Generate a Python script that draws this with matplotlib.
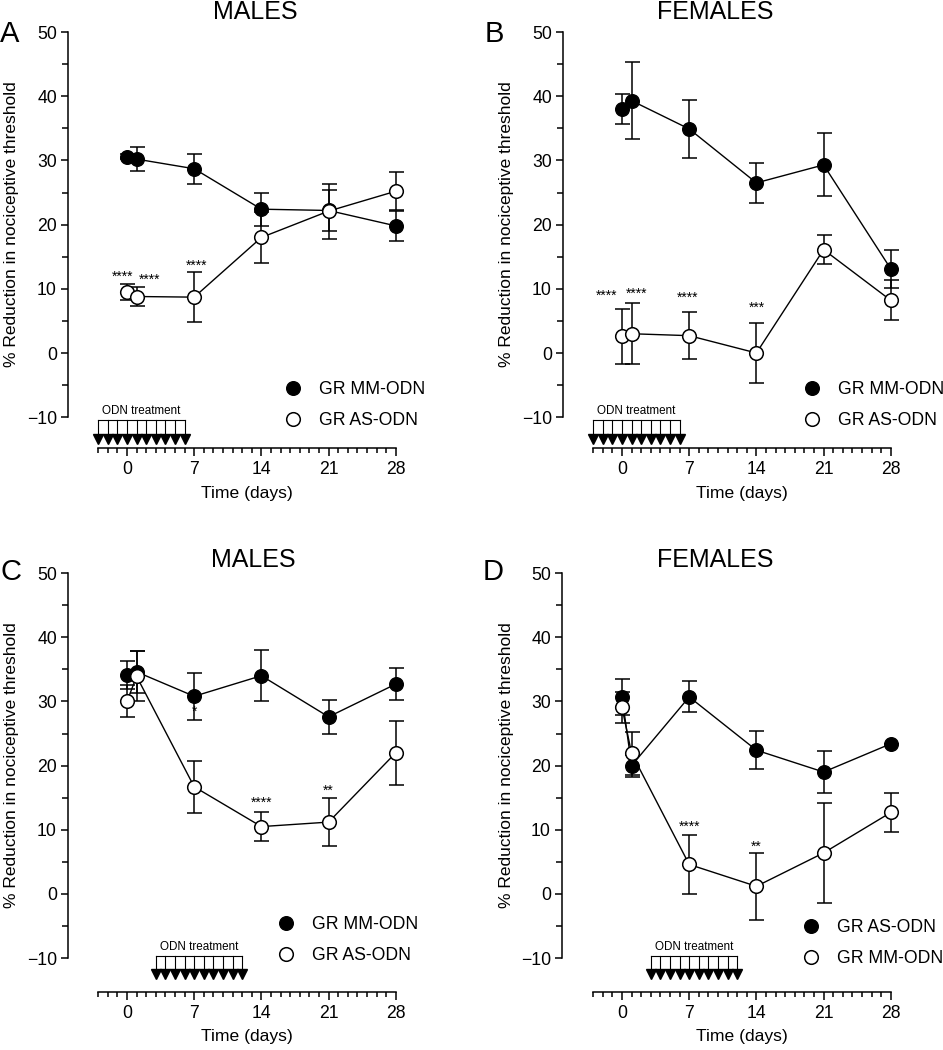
import numpy as np
import matplotlib
matplotlib.use('Agg')
import matplotlib.pyplot as plt
from matplotlib.lines import Line2D

plt.rcParams['font.family'] = ['Liberation Sans', 'DejaVu Sans']

# ---------------- data ----------------
days = [0, 1, 7, 14, 21, 28]

# A - males, ODN before
a_filled = [30.6, 30.2, 28.7, 22.4, 22.2, 19.8]
a_filled_err = [0.4, 1.9, 2.3, 2.6, 3.2, 2.3]
a_open = [9.5, 8.8, 8.7, 18.0, 22.1, 25.2]
a_open_err = [1.2, 1.45, 3.9, 4.0, 4.3, 3.0]
a_labels = ['GR MM-ODN', 'GR AS-ODN']
a_stars = [(-0.5, 11.8, '****'), (2.3, 11.4, '****'), (7.2, 13.6, '****')]

# B - females, ODN before
b_filled = [38.0, 39.3, 34.9, 26.5, 29.3, 13.1]
b_filled_err = [2.3, 6.0, 4.5, 3.1, 4.9, 2.9]
b_open = [2.6, 3.0, 2.7, 0.0, 16.1, 8.2]
b_open_err = [4.3, 4.75, 3.65, 4.7, 2.3, 3.1]
b_labels = ['GR MM-ODN', 'GR AS-ODN']
b_stars = [(-1.6, 8.9, '****'), (1.5, 9.3, '****'), (6.8, 8.6, '****'), (14.0, 7.0, '***')]

# C - males, ODN after
c_filled = [34.1, 34.6, 30.8, 34.0, 27.6, 32.7]
c_filled_err = [2.2, 3.3, 3.7, 3.95, 2.65, 2.45]
c_open = [30.0, 33.9, 16.7, 10.5, 11.2, 22.0]
c_open_err = [2.5, 3.9, 4.05, 2.2, 3.75, 5.0]
c_labels = ['GR MM-ODN', 'GR AS-ODN']
c_stars = [(7.0, 28.4, '*'), (14.0, 14.2, '****'), (21.0, 16.1, '**')]

# D - females, ODN after
d_filled = [30.7, 20.0, 30.7, 22.4, 19.0, 23.4]
d_filled_err = [2.8, 1.7, 2.4, 3.0, 3.25, 0.0]
d_open = [29.05, 21.9, 4.6, 1.2, 6.4, 12.7]
d_open_err = [2.4, 3.4, 4.65, 5.2, 7.75, 3.05]
d_labels = ['GR AS-ODN', 'GR MM-ODN']
d_stars = [(7.0, 10.4, '****'), (14.0, 7.4, '**')]

odn_early = list(range(-3, 7))
odn_late = list(range(3, 13))

# ---------------- layout ----------------
W, H = 943, 1050
fig = plt.figure(figsize=(W / 100, H / 100), dpi=100)

PX_DAY = 9.6
PX_UNIT = 6.42
XMAX = 30


def make_axes(left, x0, top, bottom):
    ymin = 50 - (bottom - top) / PX_UNIT
    xmin = -(x0 - left) / PX_DAY
    width = x0 + XMAX * PX_DAY - left
    ax = fig.add_axes([left / W, 1 - bottom / H, width / W, (bottom - top) / H])
    ax.set_xlim(xmin, XMAX)
    ax.set_ylim(ymin, 50)
    ax.set_facecolor('none')
    return ax, width, bottom - top


def panel(ax, wpx, hpx, filled, filled_err, opened, opened_err, labels, stars,
          odn_days, odn_top, odn_arrow, leg_xy):
    lw = 1.1
    ax.errorbar(days, filled, yerr=filled_err, fmt='none', ecolor='black',
                elinewidth=lw, capsize=5.4, capthick=lw, zorder=2, clip_on=False)
    ax.plot(days, filled, '-', color='black', lw=1.0, marker='o', ms=9.8,
            mfc='black', mec='black', zorder=3, clip_on=False)
    ax.errorbar(days, opened, yerr=opened_err, fmt='none', ecolor='black',
                elinewidth=lw, capsize=5.4, capthick=lw, zorder=4, clip_on=False)
    ax.plot(days, opened, '-', color='black', lw=1.0, marker='o', ms=9.8,
            mfc='white', mec='black', mew=1.1, zorder=5, clip_on=False)

    for sx, sy, s in stars:
        ax.text(sx, sy, s, ha='center', va='center', fontsize=10, zorder=6)

    # ODN treatment bracket
    ax.plot([odn_days[0], odn_days[-1]], [odn_top, odn_top], color='black',
            lw=0.8, clip_on=False)
    for d in odn_days:
        ax.plot([d, d], [odn_top, odn_arrow], color='black', lw=0.8, clip_on=False)
    ax.plot(odn_days, [odn_arrow] * len(odn_days), ls='none', marker='v',
            ms=7.5, color='black', clip_on=False)
    ax.text(np.mean(odn_days), odn_top + 0.5, 'ODN treatment', ha='center',
            va='bottom', fontsize=8.4)

    # spines and ticks
    for side in ['top', 'right']:
        ax.spines[side].set_visible(False)
    ax.spines['left'].set_bounds(-10, 50)
    ax.spines['bottom'].set_bounds(-3, 28)
    for side in ['left', 'bottom']:
        ax.spines[side].set_linewidth(1.1)
    ax.set_yticks(range(-10, 51, 10))
    ax.set_yticks(range(-10, 51, 5), minor=True)
    ax.set_xticks([0, 7, 14, 21, 28])
    ax.set_xticks(range(-3, 29), minor=True)
    ax.tick_params(axis='both', which='major', direction='out', width=1.1,
                   labelsize=12.7)
    ax.tick_params(axis='x', which='major', length=6, pad=3)
    ax.tick_params(axis='x', which='minor', length=3.5, width=1.1)
    ax.tick_params(axis='y', which='major', length=5, pad=3)
    ax.tick_params(axis='y', which='minor', length=4, width=1.1)

    ax.set_ylabel('% Reduction in nociceptive threshold', fontsize=12.5)
    ymin = ax.get_ylim()[0]
    ax.yaxis.set_label_coords(-56 / wpx, (20 - ymin) / (50 - ymin))
    ax.yaxis.label.set_va('center')
    ax.set_xlabel('Time (days)', fontsize=12.6)
    xmin = ax.get_xlim()[0]
    ax.xaxis.set_label_coords((12.5 - xmin) / (XMAX - xmin), -45 / hpx)
    ax.xaxis.label.set_va('center')

    handles = [Line2D([], [], ls='none', marker='o', ms=9.8, mfc='black', mec='black'),
               Line2D([], [], ls='none', marker='o', ms=9.8, mfc='white',
                      mec='black', mew=1.1)]
    ax.legend(handles, labels, loc='center left',
              bbox_to_anchor=(leg_xy[0] / W, 1 - leg_xy[1] / H),
              bbox_transform=fig.transFigure, frameon=False, fontsize=12.7,
              handlelength=1.0, handletextpad=1.0, labelspacing=0.8,
              borderpad=0, borderaxespad=0)


ax_a, wa, ha = make_axes(68, 127, 32, 448)
panel(ax_a, wa, ha, a_filled, a_filled_err, a_open, a_open_err, a_labels, a_stars,
      odn_early, -10.5, -13.4, (284, 405))
ax_b, wb, hb = make_axes(563, 622, 32, 448)
panel(ax_b, wb, hb, b_filled, b_filled_err, b_open, b_open_err, b_labels, b_stars,
      odn_early, -10.5, -13.4, (803, 405))
ax_c, wc, hc = make_axes(68, 127, 573, 992)
panel(ax_c, wc, hc, c_filled, c_filled_err, c_open, c_open_err, c_labels, c_stars,
      odn_late, -9.7, -12.4, (277, 940))
ax_d, wd, hd = make_axes(562, 622, 573, 992)
panel(ax_d, wd, hd, d_filled, d_filled_err, d_open, d_open_err, d_labels, d_stars,
      odn_late, -9.7, -12.4, (802, 943))

# titles and panel letters
fig.text(255 / W, 1 - 19 / H, 'MALES', ha='center', va='baseline', fontsize=18)
fig.text(715 / W, 1 - 19 / H, 'FEMALES', ha='center', va='baseline', fontsize=18)
fig.text(253 / W, 1 - 567 / H, 'MALES', ha='center', va='baseline', fontsize=18)
fig.text(715 / W, 1 - 567 / H, 'FEMALES', ha='center', va='baseline', fontsize=18)
fig.text(0, 1 - 42 / H, 'A', ha='left', va='baseline', fontsize=21)
fig.text(485 / W, 1 - 42 / H, 'B', ha='left', va='baseline', fontsize=21)
fig.text(0, 1 - 580 / H, 'C', ha='left', va='baseline', fontsize=21)
fig.text(483 / W, 1 - 580 / H, 'D', ha='left', va='baseline', fontsize=21)

fig.savefig('out.png', dpi=100)
